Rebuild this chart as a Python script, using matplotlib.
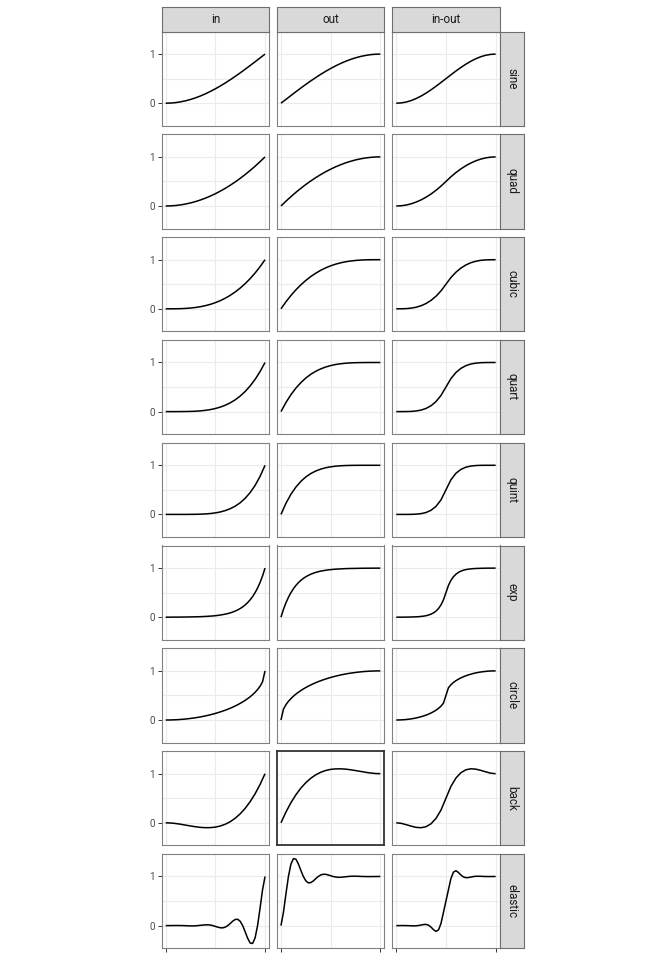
import numpy as np
import matplotlib
matplotlib.use('Agg')
from matplotlib import pyplot as plt

plt.rcParams['font.family'] = ['Roboto', 'DejaVu Sans']

# easing curves, values
x_coarse = np.linspace(0, 1, 21)
x_fine = np.linspace(0, 1, 41)

rows = ['sine', 'quad', 'cubic', 'quart', 'quint', 'exp', 'circle', 'back', 'elastic']
cols = ['in', 'out', 'in-out']

sine_in = [0, .003, .012, .028, .049, .076, .109, .147, .191, .240, .293,
           .351, .412, .478, .546, .617, .691, .767, .844, .922, 1]
sine_out = [0, .078, .156, .233, .309, .383, .454, .522, .588, .649, .707,
            .760, .809, .853, .891, .924, .951, .972, .988, .997, 1]
sine_inout = [0, .006, .024, .054, .095, .146, .206, .273, .345, .422, .5,
              .578, .655, .727, .794, .854, .905, .946, .976, .994, 1]

quad_in = [0, .003, .01, .023, .04, .063, .09, .123, .16, .203, .25,
           .303, .36, .423, .49, .563, .64, .723, .81, .903, 1]
quad_out = [0, .098, .19, .278, .36, .438, .51, .578, .64, .698, .75,
            .798, .84, .878, .91, .938, .96, .978, .99, .998, 1]
quad_inout = [0, .005, .02, .045, .08, .125, .18, .245, .32, .405, .5,
              .595, .68, .755, .82, .875, .92, .955, .98, .995, 1]

cubic_in = [0, 0, .001, .003, .008, .016, .027, .043, .064, .091, .125,
            .166, .216, .275, .343, .422, .512, .614, .729, .857, 1]
cubic_out = [0, .143, .271, .386, .488, .578, .657, .725, .784, .834, .875,
             .909, .936, .957, .973, .984, .992, .997, .999, 1, 1]
cubic_inout = [0, .001, .004, .014, .032, .063, .108, .172, .256, .365, .5,
               .636, .744, .829, .892, .938, .968, .987, .996, .999, 1]

quart_in = [0, 0, 0, .001, .002, .004, .008, .015, .026, .041, .063,
            .092, .130, .179, .240, .316, .410, .522, .656, .815, 1]
quart_out = [0, .185, .344, .478, .590, .684, .760, .821, .870, .908, .937,
             .959, .974, .985, .992, .996, .998, .999, 1, 1, 1]
quart_inout = [0, 0, .001, .004, .013, .031, .065, .120, .205, .328, .5,
               .672, .795, .880, .935, .969, .987, .996, .999, 1, 1]

quint_in = [0, 0, 0, 0, 0, .001, .002, .005, .010, .018, .031,
            .050, .078, .116, .168, .237, .328, .444, .590, .774, 1]
quint_out = [0, .226, .410, .556, .672, .763, .832, .884, .922, .950, .969,
             .982, .990, .995, .998, .999, 1, 1, 1, 1, 1]
quint_inout = [0, 0, 0, .001, .005, .016, .039, .084, .164, .295, .5,
               .705, .836, .916, .961, .984, .995, .999, 1, 1, 1]

exp_in = [0, .001, .001, .002, .002, .002, .003, .003, .004, .005, .006,
          .007, .008, .009, .011, .013, .016, .019, .022, .026, .031,
          .037, .044, .053, .063, .074, .088, .105, .125, .149, .177,
          .210, .25, .297, .354, .420, .5, .595, .707, .841, 1]
exp_out = [0, .159, .293, .405, .5, .580, .646, .703, .75, .790, .823,
           .851, .875, .895, .912, .926, .938, .947, .956, .963, .969,
           .974, .978, .981, .984, .987, .989, .991, .992, .993, .994,
           .995, .996, .997, .997, .998, .998, .998, .999, .999, .999]
exp_inout = [0, .001, .001, .001, .002, .003, .004, .006, .008, .011, .016,
             .022, .031, .044, .063, .088, .125, .177, .25, .354, .5,
             .646, .75, .823, .875, .912, .938, .956, .969, .978, .984,
             .989, .992, .994, .996, .997, .998, .999, .999, .999, 1]

circle_in = [0, 0, .001, .003, .005, .008, .011, .015, .020, .026, .032,
             .039, .046, .054, .063, .073, .084, .095, .107, .120, .134,
             .149, .165, .182, .2, .219, .240, .262, .286, .311, .339,
             .368, .4, .435, .473, .516, .564, .620, .688, .778, 1]
circle_out = [0, .222, .312, .380, .436, .484, .527, .565, .6, .632, .661,
              .689, .714, .738, .760, .781, .8, .818, .835, .851, .866,
              .880, .893, .905, .917, .927, .937, .946, .954, .961, .968,
              .974, .980, .985, .989, .992, .995, .997, .999, 1, 1]
circle_inout = [0, .001, .003, .006, .010, .016, .023, .032, .042, .054, .067,
                .083, .1, .12, .143, .170, .2, .237, .282, .344, .5,
                .656, .718, .764, .8, .831, .857, .88, .9, .918, .933,
                .947, .959, .969, .977, .984, .99, .995, .998, 1, 1]

back_in = [0, -.004, -.014, -.029, -.047, -.064, -.080, -.093, -.099, -.098, -.088,
           -.065, -.029, .023, .093, .183, .294, .430, .591, .781, 1]
back_out = [0, .219, .409, .570, .706, .817, .907, .977, 1.029, 1.065, 1.088,
            1.098, 1.099, 1.093, 1.080, 1.064, 1.047, 1.029, 1.014, 1.004, 1]
back_inout = [0, -.011, -.038, -.068, -.093, -.100, -.079, -.019, .090, .259, .5,
              .741, .910, 1.019, 1.079, 1.100, 1.093, 1.068, 1.038, 1.011, 1]

elastic_in = [0, 0, .001, .001, .002, .002, .001, 0, -.002, -.004, -.006,
              -.006, -.004, 0, .006, .011, .016, .016, .011, 0, -.016,
              -.032, -.044, -.046, -.031, 0, .044, .091, .125, .129, .088,
              0, -.125, -.257, -.354, -.364, -.25, 0, .354, .728, 1]
elastic_out = [0, .272, .646, 1, 1.25, 1.364, 1.354, 1.257, 1.125, 1, .912,
               .871, .875, .909, .956, 1, 1.031, 1.046, 1.044, 1.032, 1.016,
               1, .989, .984, .984, .989, .994, 1, 1.004, 1.006, 1.006,
               1.004, 1.002, 1, .999, .998, .998, .999, .999, 1, 1]
elastic_inout = [0, 0, .001, .001, 0, -.001, -.004, -.005, -.004, .002, .012,
                 .022, .024, .008, -.031, -.083, -.118, -.088, .043, .271, .5,
                 .729, .957, 1.088, 1.118, 1.083, 1.031, .992, .976, .978, .988,
                 .998, 1.004, 1.005, 1.004, 1.001, 1.0, .999, .999, 1, 1]

curves = {
    'sine': (x_coarse, [sine_in, sine_out, sine_inout]),
    'quad': (x_coarse, [quad_in, quad_out, quad_inout]),
    'cubic': (x_coarse, [cubic_in, cubic_out, cubic_inout]),
    'quart': (x_coarse, [quart_in, quart_out, quart_inout]),
    'quint': (x_coarse, [quint_in, quint_out, quint_inout]),
    'exp': (x_fine, [exp_in, exp_out, exp_inout]),
    'circle': (x_fine, [circle_in, circle_out, circle_inout]),
    'back': (x_coarse, [back_in, back_out, back_inout]),
    'elastic': (x_fine, [elastic_in, elastic_out, elastic_inout]),
}

W, H = 672, 960
fig = plt.figure(figsize=(W / 100, H / 100), dpi=100)

left0, col_pitch, pw = 161.7, 115.3, 107.3
top0, row_pitch, ph = 31.5, 102.8, 94.3
strip = 24.2

edge = '#808080'
strip_edge = '#6E6E6E'


def px_axes(l, t, w, h):
    return fig.add_axes([l / W, 1 - (t + h) / H, w / W, h / H])


for r, name in enumerate(rows):
    xs, ys = curves[name]
    top = top0 + r * row_pitch
    for c in range(3):
        left = left0 + c * col_pitch
        ax = px_axes(left, top, pw, ph)
        ax.plot(xs, ys[c], color='black', lw=1.1, solid_capstyle='butt')
        ax.set_xlim(-0.04, 1.04)
        ax.set_ylim(-0.46, 1.46)
        ax.set_xticks([0, 1])
        ax.set_xticks([0.5], minor=True)
        ax.set_yticks([0, 1])
        ax.set_yticks([0.5], minor=True)
        ax.grid(which='both', color='#EBEBEB', lw=0.8)
        ax.set_axisbelow(True)
        ax.tick_params(which='minor', length=0)
        ax.tick_params(which='major', length=2.6, width=0.7, color='#333333',
                       labelsize=7.2, labelcolor='#4D4D4D', pad=2)
        ax.tick_params(labelbottom=False, bottom=(r == len(rows) - 1))
        if c == 0:
            ax.set_yticklabels(['0', '1'])
        else:
            ax.tick_params(left=False, labelleft=False)

        # the back / out panel has a darker frame
        highlight = (name == 'back' and c == 1)
        for sp in ax.spines.values():
            sp.set_color('#333333' if highlight else edge)
            sp.set_linewidth(1.3 if highlight else 0.8)

        if r == 0:
            sax = px_axes(left, top - strip, pw, strip)
            sax.set_facecolor('#D9D9D9')
            sax.set_xticks([])
            sax.set_yticks([])
            for sp in sax.spines.values():
                sp.set_color(strip_edge)
                sp.set_linewidth(0.8)
            sax.text(0.5, 0.5, cols[c], ha='center', va='center',
                     fontsize=8.5, color='#1A1A1A', transform=sax.transAxes)

    rax = px_axes(left0 + 2 * col_pitch + pw, top, strip, ph)
    rax.set_facecolor('#D9D9D9')
    rax.set_xticks([])
    rax.set_yticks([])
    for sp in rax.spines.values():
        sp.set_color(strip_edge)
        sp.set_linewidth(0.8)
    rax.text(0.5, 0.5, name, ha='center', va='center', rotation=-90,
             fontsize=8.5, color='#1A1A1A', transform=rax.transAxes)

fig.savefig('out.png', dpi=100)
